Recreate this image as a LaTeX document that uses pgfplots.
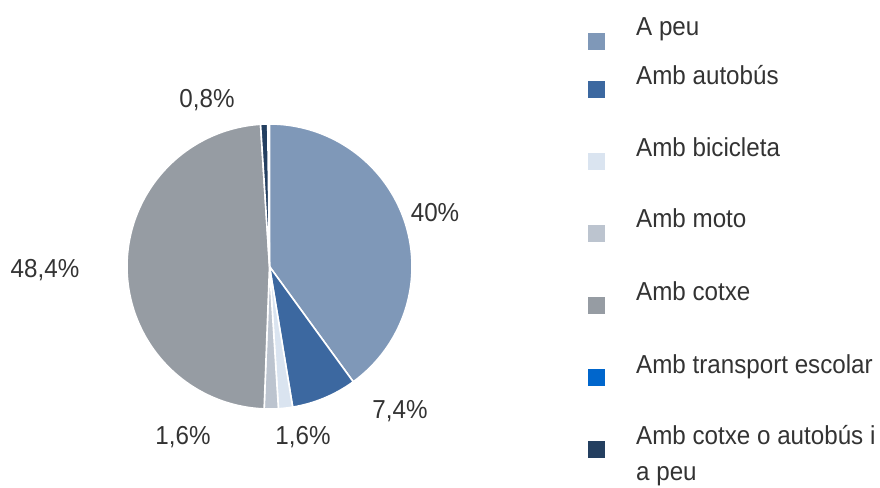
\documentclass[border=0pt]{standalone}
\usepackage{pgfplots}
\pgfplotsset{compat=1.18}
\usepackage{fontspec}
\setmainfont{Liberation Sans}[FakeStretch=0.93]
\definecolor{cpeu}{HTML}{7F98B8}
\definecolor{cbus}{HTML}{3C68A0}
\definecolor{cbici}{HTML}{DAE4F0}
\definecolor{cmoto}{HTML}{BCC4CF}
\definecolor{ccotxe}{HTML}{969CA3}
\definecolor{cesc}{HTML}{0066CC}
\definecolor{cmix}{HTML}{243F60}
\definecolor{txt}{HTML}{333333}
\newcommand\lf{\fontsize{26bp}{31bp}\selectfont}
% pie centre and radius in pixel units
\def\cx{269.5}
\def\cy{220.5}
\def\r{142.5}
\begin{document}
\begin{tikzpicture}[lbl/.style={font=\lf, text=txt, inner sep=0pt}]
\begin{axis}[
    width=880bp, height=487bp, scale only axis,
    xmin=0, xmax=880, ymin=0, ymax=487,
    hide axis, clip=false,
    slice/.style={draw=white, line width=1.6bp, samples=120, variable=\t},
]
\addplot[draw=none] coordinates {(0,0) (880,487)};
% slices: A peu 40, autobus 7.4, bicicleta 1.6, moto 1.6, cotxe 48.4, escolar 0, mixt 0.8
\addplot[slice, fill=cpeu,   domain={90-3.6*40}:{90}]
    ({\cx+\r*cos(\t)},{\cy+\r*sin(\t)}) -- (axis cs:\cx,\cy) -- cycle;
\addplot[slice, fill=cbus,   domain={90-3.6*47.4}:{90-3.6*40}]
    ({\cx+\r*cos(\t)},{\cy+\r*sin(\t)}) -- (axis cs:\cx,\cy) -- cycle;
\addplot[slice, fill=cbici,  domain={90-3.6*49}:{90-3.6*47.4}]
    ({\cx+\r*cos(\t)},{\cy+\r*sin(\t)}) -- (axis cs:\cx,\cy) -- cycle;
\addplot[slice, fill=cmoto,  domain={90-3.6*50.6}:{90-3.6*49}]
    ({\cx+\r*cos(\t)},{\cy+\r*sin(\t)}) -- (axis cs:\cx,\cy) -- cycle;
\addplot[slice, fill=ccotxe, domain={90-3.6*99}:{90-3.6*50.6}]
    ({\cx+\r*cos(\t)},{\cy+\r*sin(\t)}) -- (axis cs:\cx,\cy) -- cycle;
\addplot[slice, fill=cmix,   domain={90-3.6*99.8}:{90-3.6*99}]
    ({\cx+\r*cos(\t)},{\cy+\r*sin(\t)}) -- (axis cs:\cx,\cy) -- cycle;
% value labels
\node[lbl] at (axis cs:435,274) {40\%};
\node[lbl] at (axis cs:400,76) {7,4\%};
\node[lbl] at (axis cs:303,50) {1,6\%};
\node[lbl] at (axis cs:183,50) {1,6\%};
\node[lbl] at (axis cs:45,217) {48,4\%};
\node[lbl] at (axis cs:207,387) {0,8\%};
% legend
\addplot[fill=cpeu,   draw=none] coordinates {(588,454) (605,454) (605,437) (588,437)};
\addplot[fill=cbus,   draw=none] coordinates {(588,406) (605,406) (605,389) (588,389)};
\addplot[fill=cbici,  draw=none] coordinates {(588,334) (605,334) (605,317) (588,317)};
\addplot[fill=cmoto,  draw=none] coordinates {(588,262) (605,262) (605,245) (588,245)};
\addplot[fill=ccotxe, draw=none] coordinates {(588,190) (605,190) (605,173) (588,173)};
\addplot[fill=cesc,   draw=none] coordinates {(588,118) (605,118) (605,101) (588,101)};
\addplot[fill=cmix,   draw=none] coordinates {(588,46) (605,46) (605,29) (588,29)};
\node[lbl, anchor=base west] at (axis cs:636,451) {A peu};
\node[lbl, anchor=base west] at (axis cs:636,402) {Amb autobús};
\node[lbl, anchor=base west] at (axis cs:636,330) {Amb bicicleta};
\node[lbl, anchor=base west] at (axis cs:636,259) {Amb moto};
\node[lbl, anchor=base west] at (axis cs:636,187) {Amb cotxe};
\node[lbl, anchor=base west] at (axis cs:636,114) {Amb transport escolar};
\node[lbl, anchor=base west] at (axis cs:636,43) {Amb cotxe o autobús i};
\node[lbl, anchor=base west] at (axis cs:636,7) {a peu};
\end{axis}
\end{tikzpicture}
\end{document}
